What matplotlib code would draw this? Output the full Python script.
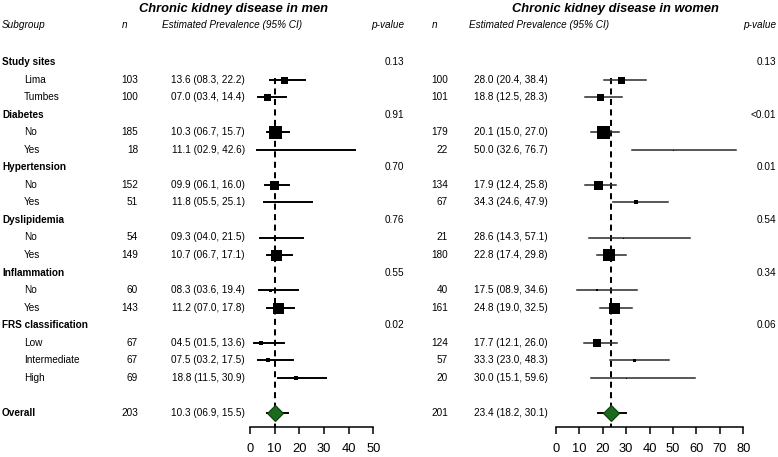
import numpy as np
import matplotlib
matplotlib.use('Agg')
import matplotlib.pyplot as plt

plt.rcParams['font.family'] = ['Liberation Sans', 'DejaVu Sans']

# subgroup rows
groups = ['Study sites', 'Diabetes', 'Hypertension', 'Dyslipidemia', 'Inflammation', 'FRS classification']
subgroups = ['Lima', 'Tumbes', 'No', 'Yes', 'No', 'Yes', 'No', 'Yes', 'No', 'Yes', 'Low', 'Intermediate', 'High']
group_of = [0, 0, 1, 1, 2, 2, 3, 3, 4, 4, 5, 5, 5]

# men
men_n = [103, 100, 185, 18, 152, 51, 54, 149, 60, 143, 67, 67, 69]
men_est = [13.6, 7.0, 10.3, 11.1, 9.9, 11.8, 9.3, 10.7, 8.3, 11.2, 4.5, 7.5, 18.8]
men_lo = [8.3, 3.4, 6.7, 2.9, 6.1, 5.5, 4.0, 6.7, 3.6, 7.0, 1.5, 3.2, 11.5]
men_hi = [22.2, 14.4, 15.7, 42.6, 16.0, 25.1, 21.5, 17.1, 19.4, 17.8, 13.6, 17.5, 30.9]
men_p = ['0.13', '0.91', '0.70', '0.76', '0.55', '0.02']
men_overall = [203, 10.3, 6.9, 15.5]
men_ticks = [0, 10, 20, 30, 40, 50]

# women
women_n = [100, 101, 179, 22, 134, 67, 21, 180, 40, 161, 124, 57, 20]
women_est = [28.0, 18.8, 20.1, 50.0, 17.9, 34.3, 28.6, 22.8, 17.5, 24.8, 17.7, 33.3, 30.0]
women_lo = [20.4, 12.5, 15.0, 32.6, 12.4, 24.6, 14.3, 17.4, 8.9, 19.0, 12.1, 23.0, 15.1]
women_hi = [38.4, 28.3, 27.0, 76.7, 25.8, 47.9, 57.1, 29.8, 34.6, 32.5, 26.0, 48.3, 59.6]
women_p = ['0.13', '<0.01', '0.01', '0.54', '0.34', '0.06']
women_overall = [201, 23.4, 18.2, 30.1]
women_ticks = [0, 10, 20, 30, 40, 50, 60, 70, 80]

# box sizes (pixels) as drawn in the original
men_box = [7, 7, 13, 0.5, 9, 2, 2, 11, 3, 11, 4, 4, 4]
women_box = [7, 7, 13, 1, 9, 4, 1, 12, 2, 11, 8, 3, 1]

W, H = 778, 457
fig = plt.figure(figsize=(W / 100, H / 100), dpi=100)

# rows: 17.55 px apart, first group row at y=62 px
step, top = 17.55, 62
ylim = ((H - top) / step, -top / step)

bg = fig.add_axes([0, 0, 1, 1])
bg.set_xlim(0, W)
bg.set_ylim(*ylim)
bg.axis('off')

# row indices
group_rows = []
sub_rows = []
r = 0
for g in range(len(groups)):
    group_rows.append(r)
    r += 1
    for i in range(len(subgroups)):
        if group_of[i] == g:
            sub_rows.append(r)
            r += 1
overall_row = r + 1

fs = 7.2

def fmt(e, l, h):
    return f'{e:04.1f} ({l:04.1f}, {h:04.1f})'

# left table
bg.text(2, -2.1, 'Subgroup', style='italic', fontsize=fs, va='center')
for g, row in zip(groups, group_rows):
    bg.text(2, row, g, fontweight='bold', fontsize=fs, va='center')
for s, row in zip(subgroups, sub_rows):
    bg.text(24, row, s, fontsize=fs, va='center')
bg.text(2, overall_row, 'Overall', fontweight='bold', fontsize=fs, va='center')

cols = [
    dict(title='Chronic kidney disease in men', tc=234, nh=122, nx=138, eh=162, ex=245, px=404,
         n=men_n, est=men_est, lo=men_lo, hi=men_hi, p=men_p, ov=men_overall),
    dict(title='Chronic kidney disease in women', tc=615, nh=432, nx=448, eh=469, ex=548, px=776,
         n=women_n, est=women_est, lo=women_lo, hi=women_hi, p=women_p, ov=women_overall),
]
for c in cols:
    bg.text(c['tc'], -3.02, c['title'], fontsize=9.3, fontweight='bold', style='italic',
            ha='center', va='center')
    bg.text(c['nh'], -2.1, 'n', style='italic', fontsize=fs, va='center')
    bg.text(c['eh'], -2.1, 'Estimated Prevalence (95% CI)', style='italic', fontsize=fs, va='center')
    bg.text(c['px'], -2.1, 'p-value', style='italic', fontsize=fs, va='center', ha='right')
    for i, row in enumerate(sub_rows):
        bg.text(c['nx'], row, str(c['n'][i]), fontsize=fs, va='center', ha='right')
        bg.text(c['ex'], row, fmt(c['est'][i], c['lo'][i], c['hi'][i]), fontsize=fs,
                va='center', ha='right')
    for pv, row in zip(c['p'], group_rows):
        bg.text(c['px'], row, pv, fontsize=fs, va='center', ha='right')
    n, e, l, h = c['ov']
    bg.text(c['nx'], overall_row, str(n), fontsize=fs, va='center', ha='right')
    bg.text(c['ex'], overall_row, fmt(e, l, h), fontsize=fs, va='center', ha='right')

# forest panels
axis_row = (427 - top) / step
panels = [
    (250, 373.3, men_est, men_lo, men_hi, men_box, men_overall, men_ticks, 'black', 1.4),
    (555.7, 743.3, women_est, women_lo, women_hi, women_box, women_overall, women_ticks, '#2a2a2a', 1.1),
]
for x0, x1, est, lo, hi, box, ov, ticks, lc, lw in panels:
    ax = fig.add_axes([x0 / W, 0, (x1 - x0) / W, 1])
    ax.patch.set_alpha(0)
    ax.set_xlim(ticks[0], ticks[-1])
    ax.set_ylim(*ylim)
    ax.plot([ov[1], ov[1]], [0.9, axis_row], color='black', lw=1.45, ls=(0, (3, 2.2)), zorder=1)
    for i, row in enumerate(sub_rows):
        ax.plot([lo[i], hi[i]], [row, row], color=lc, lw=lw, zorder=2)
        ax.plot(est[i], row, marker='s', ms=box[i] * 0.72, color='black', mec='black', mew=0, zorder=3)
    ax.plot([ov[2], ov[3]], [overall_row, overall_row], color='black', lw=1.4, zorder=2)
    ax.plot(ov[1], overall_row, marker='D', ms=8.5, color='#1c6b1c', mec='#0d3d0d', mew=0.8, zorder=3)
    for s in ['top', 'left', 'right']:
        ax.spines[s].set_visible(False)
    ax.spines['bottom'].set_position(('data', axis_row))
    ax.spines['bottom'].set_bounds(ticks[0], ticks[-1])
    ax.spines['bottom'].set_linewidth(1.1)
    ax.set_yticks([])
    ax.set_xticks(ticks)
    ax.tick_params(axis='x', direction='out', length=5.2, width=1.1, labelsize=9.3, pad=6)

fig.savefig('out.png', dpi=100)
